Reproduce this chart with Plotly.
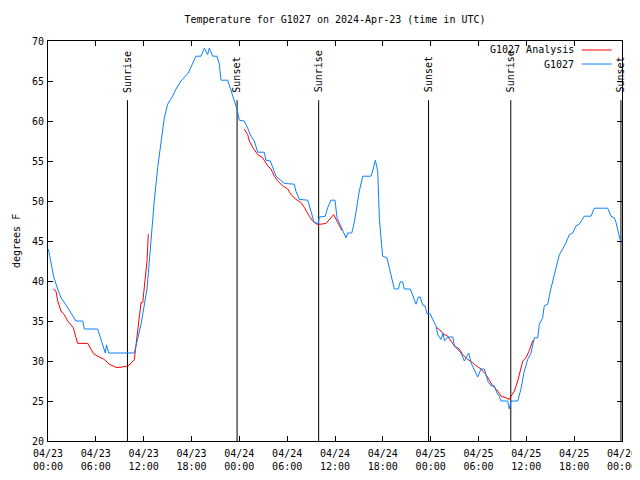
import plotly.graph_objects as go
from datetime import datetime, timedelta

BASE = datetime(2024, 4, 23, 0, 0)

# --- Observed G1027 temperature (hours since 2024-04-23 00:00 UTC, degF) ---
obs_hours = [0.04, 0.75, 1.22, 1.63, 2.26, 2.89, 3.51, 4.35, 4.58, 6.23, 6.86, 7.19, 7.34, 7.61,
             10.83, 11.04, 11.67, 12.42, 12.83, 13.13, 13.33, 13.76, 14.09, 14.59, 15.01, 15.64,
             16.06, 16.68, 17.60, 18.56, 19.19, 19.61, 20.03, 20.23, 20.66, 21.20, 21.49, 21.70,
             22.54, 22.96, 23.37, 23.71, 24.00, 24.62, 25.05, 25.46, 25.88, 26.30, 27.13, 27.34,
             27.89, 28.19, 28.60, 29.64, 30.90, 31.11, 31.52, 32.58, 32.90, 33.40, 33.91, 34.03,
             34.78, 35.09, 35.50, 36.00, 36.25, 36.75, 37.38, 37.59, 38.10, 38.42, 39.05, 39.48,
             40.52, 40.73, 41.06, 41.36, 41.56, 41.77, 41.98, 42.52, 42.81, 43.03, 43.44, 43.94,
             44.19, 44.49, 44.69, 45.45, 45.75, 46.16, 46.45, 46.70, 47.00, 47.29, 47.54, 47.96,
             48.26, 48.67, 48.88, 49.30, 49.55, 49.74, 50.14, 50.77, 50.97, 51.81, 52.22, 52.77,
             53.06, 53.47, 53.90, 54.31, 54.73, 55.16, 55.57, 55.98, 56.32, 56.61, 56.82, 57.66,
             57.86, 58.08, 58.92, 59.33, 59.75, 60.17, 60.59, 61.00, 61.43, 61.63, 62.05, 62.25,
             62.68, 63.01, 63.31, 63.72, 64.14, 64.56, 64.98, 65.39, 65.82, 66.23, 66.65, 67.27,
             68.11, 68.53, 70.21, 70.62, 71.04, 71.25, 71.54, 71.79, 71.90]
obs_temp = [44.0, 40.4, 39.0, 37.9, 37.0, 36.0, 35.0, 35.0, 34.0, 34.0, 32.1, 31.0, 32.0, 31.0,
            31.0, 31.9, 34.6, 39.0, 43.75, 48.3, 50.0, 54.2, 56.7, 60.4, 62.1, 63.1,
            64.0, 65.0, 66.0, 68.1, 68.1, 69.1, 68.3, 69.1, 68.1, 68.1, 67.1, 65.1,
            65.1, 63.75, 62.6, 61.5, 60.1, 60.0, 59.1, 58.1, 57.5, 56.1, 56.1, 55.1,
            55.0, 54.2, 53.1, 52.2, 52.1, 51.2, 50.2, 50.1, 49.0, 47.3, 47.2, 48.0,
            48.1, 49.2, 50.1, 50.1, 47.9, 46.7, 45.4, 46.0, 46.0, 47.3, 51.25, 53.1,
            53.1, 53.75, 55.1, 53.75, 47.9, 45.4, 43.1, 42.9, 41.7, 40.4, 39.0, 39.0,
            39.9, 39.9, 39.0, 39.0, 38.1, 37.1, 38.0, 38.0, 37.0, 36.9, 35.9, 35.9,
            35.2, 34.4, 33.3, 32.7, 33.5, 32.5, 33.0, 33.0, 31.9, 31.0, 30.0, 31.0,
            29.8, 29.0, 28.0, 29.0, 29.0, 27.5, 26.9, 26.9, 26.0, 25.6, 25.0, 25.0,
            24.0, 25.0, 25.0, 26.5, 28.75, 30.2, 31.0, 32.9, 32.9, 34.6, 35.4, 36.9,
            37.1, 38.75, 40.0, 41.9, 43.3, 44.0, 44.8, 45.8, 46.0, 46.9, 47.1, 48.1,
            48.1, 49.1, 49.1, 48.1, 47.9, 47.3, 46.25, 45.0, 44.6]

# --- G1027 Analysis (three segments separated by gaps) ---
ana_hours_1 = [0.66, 1.00, 1.22, 1.63, 2.04, 2.47, 2.80, 3.17, 3.51, 3.73, 4.98, 5.39, 5.73, 6.44,
               7.06, 7.69, 8.53, 9.16, 9.37, 9.91, 10.41, 10.83, 11.04, 11.25, 11.45, 11.67,
               11.88, 12.08, 12.42, 12.58, 12.67]
ana_temp_1 = [39.0, 38.75, 37.5, 36.25, 35.8, 35.0, 34.6, 34.2, 32.9, 32.2, 32.2, 31.5, 30.9, 30.5,
              30.2, 29.6, 29.2, 29.2, 29.3, 29.3, 29.7, 30.2, 32.1, 33.75, 35.4, 37.3,
              37.3, 39.2, 42.5, 45.8, 45.8]
ana_hours_2 = [24.62, 25.05, 25.25, 25.68, 26.30, 26.93, 27.56, 27.97, 28.39, 28.81, 29.44, 30.07,
               30.48, 31.11, 31.74, 32.15, 32.78, 33.20, 33.74, 34.24, 34.87, 35.29, 35.84,
               36.34, 36.88]
ana_temp_2 = [59.0, 58.3, 57.5, 56.7, 55.8, 55.4, 54.4, 54.0, 53.1, 52.5, 51.9, 51.5,
              50.8, 50.2, 49.8, 49.2, 48.1, 47.5, 47.1, 47.1, 47.2, 47.7, 48.3,
              47.3, 46.3]
ana_hours_3 = [48.67, 49.30, 49.63, 50.05, 50.55, 50.97, 51.59, 52.02, 52.65, 53.27, 53.69, 54.31,
               54.94, 55.36, 55.78, 56.41, 56.82, 57.45, 57.86, 58.08, 58.50, 58.92, 59.25,
               59.55, 59.96, 60.37, 60.79, 61.00]
ana_temp_3 = [34.25, 33.75, 33.3, 33.2, 32.5, 31.9, 31.5, 30.8, 30.2, 29.8, 29.4, 29.0,
              28.3, 27.5, 26.9, 26.25, 25.6, 25.4, 25.2, 25.6, 26.25, 27.5, 28.8,
              30.0, 30.4, 31.3, 32.5, 32.6]

# --- Sunrise / sunset events (UTC) ---
sun_events = ["2024-04-23 09:58", "2024-04-23 23:43", "2024-04-24 09:57",
              "2024-04-24 23:44", "2024-04-25 10:03", "2024-04-25 23:52"]
sun_labels = ["Sunrise", "Sunset", "Sunrise", "Sunset", "Sunrise", "Sunset"]
sun_line_bottom = 20
sun_line_top = 62.6
sun_label_y = 63.3

y_ticks = [20, 25, 30, 35, 40, 45, 50, 55, 60, 65, 70]

FONT = "DejaVu Sans Mono"
FIG_W, FIG_H = 632, 464
PLOT_W = 574


def to_time(hours):
    return [BASE + timedelta(hours=h) for h in hours]


ana_x = to_time(ana_hours_1) + [None] + to_time(ana_hours_2) + [None] + to_time(ana_hours_3)
ana_y = ana_temp_1 + [None] + ana_temp_2 + [None] + ana_temp_3

sun_x, sun_y = [], []
for t in sun_events:
    sun_x += [t, t, None]
    sun_y += [sun_line_bottom, sun_line_top, None]

fig = go.Figure()
fig.add_trace(go.Scatter(x=sun_x, y=sun_y, mode="lines", line=dict(color="black", width=1),
                         showlegend=False, hoverinfo="skip"))
fig.add_trace(go.Scatter(x=ana_x, y=ana_y, mode="lines", name="G1027 Analysis",
                         line=dict(color="#ff0000", width=1), connectgaps=False, showlegend=False))
fig.add_trace(go.Scatter(x=to_time(obs_hours), y=obs_temp, mode="lines", name="G1027",
                         line=dict(color="#0a80ff", width=1), showlegend=False))

for t, lab in zip(sun_events, sun_labels):
    fig.add_annotation(x=t, y=sun_label_y, text=lab, textangle=-90, showarrow=False,
                       xanchor="center", yanchor="bottom", font=dict(family=FONT, size=10, color="black"))

# custom gnuplot-style key (text left of sample line)
legend_items = [("G1027 Analysis", "#ff0000", 0.9775), ("G1027", "#0a80ff", 0.9425)]
for name, color, yy in legend_items:
    fig.add_annotation(xref="paper", yref="paper", x=0.919, y=yy, text=name, showarrow=False,
                       xanchor="right", yanchor="middle", font=dict(family=FONT, size=10, color="black"))
    fig.add_shape(type="line", xref="paper", yref="paper", x0=0.930, x1=0.982, y0=yy, y1=yy,
                  line=dict(color=color, width=1))

# y-axis title placed like gnuplot's (far left)
fig.add_annotation(xref="paper", yref="paper", x=-32 / PLOT_W, y=0.5, text="degrees F",
                   textangle=-90, showarrow=False, xanchor="center", yanchor="middle",
                   font=dict(family=FONT, size=10, color="black"))

fig.update_layout(
    width=FIG_W, height=FIG_H,
    margin=dict(l=40, r=18, t=33, b=31),
    paper_bgcolor="white", plot_bgcolor="white",
    font=dict(family=FONT, size=10, color="black"),
    title=dict(text="Temperature for G1027 on 2024-Apr-23 (time in UTC)", x=0.5, xref="paper",
               y=1 - 11 / FIG_H, yanchor="middle", font=dict(family=FONT, size=10)),
    showlegend=False,
)
fig.update_xaxes(type="date", range=["2024-04-23 00:00", "2024-04-26 00:00"],
                 tick0="2024-04-23 00:00", dtick=6 * 3600 * 1000, tickformat="%m/%d<br>%H:%M",
                 ticks="inside", ticklen=5, tickcolor="black", mirror="ticks", showline=True,
                 linecolor="black", linewidth=1, showgrid=False, zeroline=False, automargin=False,
                 ticklabelstandoff=3, ticklabeloverflow="allow", tickfont=dict(family=FONT, size=10))
fig.update_yaxes(range=[20, 70], tickvals=y_ticks, ticks="inside", ticklen=5, tickcolor="black",
                 mirror="ticks", showline=True, linecolor="black", linewidth=1, showgrid=False,
                 zeroline=False, automargin=False, ticklabelstandoff=1,
                 tickfont=dict(family=FONT, size=10))

fig.write_html("out.html")
